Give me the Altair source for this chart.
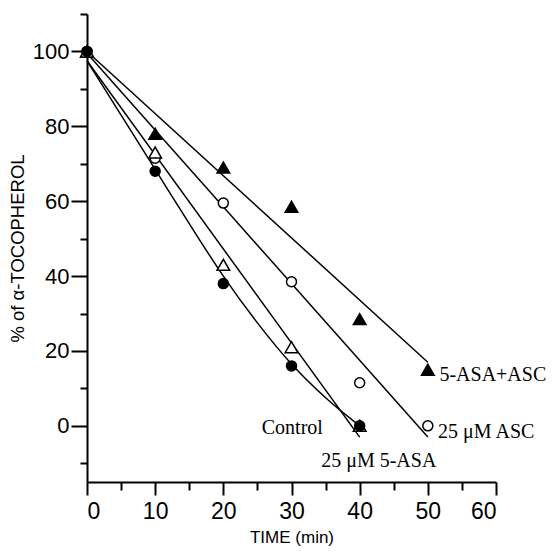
import altair as alt
import pandas as pd

# measured points
t6 = [0, 10, 20, 30, 40, 50]
t5 = [0, 10, 20, 30, 40]
combo = [100, 78, 69, 58.5, 28.5, 15]      # 5-ASA+ASC (filled triangle)
asc = [100, 71.5, 59.5, 38.5, 11.5, 0]     # 25 uM ASC (open circle)
asa = [100, 73, 43, 21, 0]                 # 25 uM 5-ASA (open triangle)
control = [100, 68, 38, 16, 0]             # Control (filled circle)

# fitted lines
fit_combo_t = [0, 50]
fit_combo_v = [100, 17]
fit_asc_t = [0, 50]
fit_asc_v = [99.5, -3]
fit_asa_t = [0, 40]
fit_asa_v = [97.5, -3]
fit_ctrl_t = [0, 5, 10, 15, 20, 25, 30, 35, 40]
fit_ctrl_v = [97.5, 83, 68.5, 54, 40, 27.5, 16.5, 7.5, 0]

# curve labels
lab_text = ["5-ASA+ASC", "25 μM ASC", "Control", "25 μM 5-ASA"]
lab_t = [51.7, 51.5, 34.6, 42.8]
lab_v = [13.6, -1.7, -0.6, -9.5]
lab_align = ["left", "left", "right", "center"]

# axis ticks
x_major = [0, 10, 20, 30, 40, 50, 60]
x_minor = [5, 15, 25, 35, 45, 55]
y_major = [0, 20, 40, 60, 80, 100]
y_minor = [-10, 10, 30, 50, 70, 90, 110]

xs = alt.Scale(domain=[0, 60], nice=False, zero=False)
ys = alt.Scale(domain=[-15, 110], nice=False, zero=False)

x_axis_major = alt.Axis(values=x_major, tickSize=13, labelPadding=5, labelFontSize=23,
                        title="TIME (min)", titlePadding=6, orient="bottom")
y_axis_major = alt.Axis(values=y_major, tickSize=16, labelPadding=2, labelFontSize=22,
                        title="% of α-TOCOPHEROL", titlePadding=5, titleFontSize=18.5,
                        orient="left")
x_axis_minor = alt.Axis(values=x_minor, tickSize=8, labels=False, domain=False,
                        title=None, orient="bottom")
y_axis_minor = alt.Axis(values=y_minor, tickSize=7, labels=False, domain=False,
                        title=None, orient="left")


def line(ts, vs):
    df = pd.DataFrame({"t": ts, "v": vs})
    return alt.Chart(df).mark_line(color="black", strokeWidth=1.5, interpolate="monotone").encode(
        x=alt.X("t:Q", scale=xs, axis=None), y=alt.Y("v:Q", scale=ys, axis=None))


def pts(ts, vs, shape, filled, size):
    df = pd.DataFrame({"t": ts, "v": vs})
    return alt.Chart(df).mark_point(
        shape=shape, filled=True, fill="black" if filled else "white",
        stroke="black", strokeWidth=1.5, size=size, opacity=1,
    ).encode(x=alt.X("t:Q", scale=xs, axis=None), y=alt.Y("v:Q", scale=ys, axis=None))


major = alt.Chart(pd.DataFrame({"t": t6, "v": combo})).mark_point(opacity=0).encode(
    x=alt.X("t:Q", scale=xs, axis=x_axis_major), y=alt.Y("v:Q", scale=ys, axis=y_axis_major))
minor = alt.Chart(pd.DataFrame({"t": t6, "v": combo})).mark_point(opacity=0).encode(
    x=alt.X("t:Q", scale=xs, axis=x_axis_minor), y=alt.Y("v:Q", scale=ys, axis=y_axis_minor))

lines = [
    line(fit_combo_t, fit_combo_v),
    line(fit_asc_t, fit_asc_v),
    line(fit_asa_t, fit_asa_v),
    line(fit_ctrl_t, fit_ctrl_v),
]
points = [
    pts(t6, combo, "triangle-up", True, 160),
    pts(t6, asc, "circle", False, 100),
    pts(t5, asa, "triangle-up", False, 160),
    pts(t5, control, "circle", True, 100),
]

labels = pd.DataFrame({"t": lab_t, "v": lab_v, "text": lab_text, "align": lab_align})
texts = []
for al in ["left", "right", "center"]:
    texts.append(
        alt.Chart(labels[labels["align"] == al]).mark_text(
            align=al, baseline="middle", font="Liberation Serif", fontSize=20, color="black"
        ).encode(x=alt.X("t:Q", scale=xs, axis=None), y=alt.Y("v:Q", scale=ys, axis=None),
                 text="text:N")
    )

chart = alt.layer(minor, major, *lines, *points, *texts).resolve_axis(
    x="independent", y="independent"
).properties(
    width=409, height=468,
    autosize=alt.AutoSizeParams(type="none"),
    padding={"left": 79, "top": 6, "right": 50, "bottom": 65},
).configure_view(stroke=None).configure_axis(
    grid=False,
    domainColor="black", domainWidth=2,
    tickColor="black", tickWidth=2,
    labelFont="Liberation Sans", labelColor="black",
    titleFont="Liberation Sans", titleFontSize=17, titleFontWeight="normal", titleColor="black",
)

chart.save("out.html", embed_options={"renderer": "svg", "actions": False})
